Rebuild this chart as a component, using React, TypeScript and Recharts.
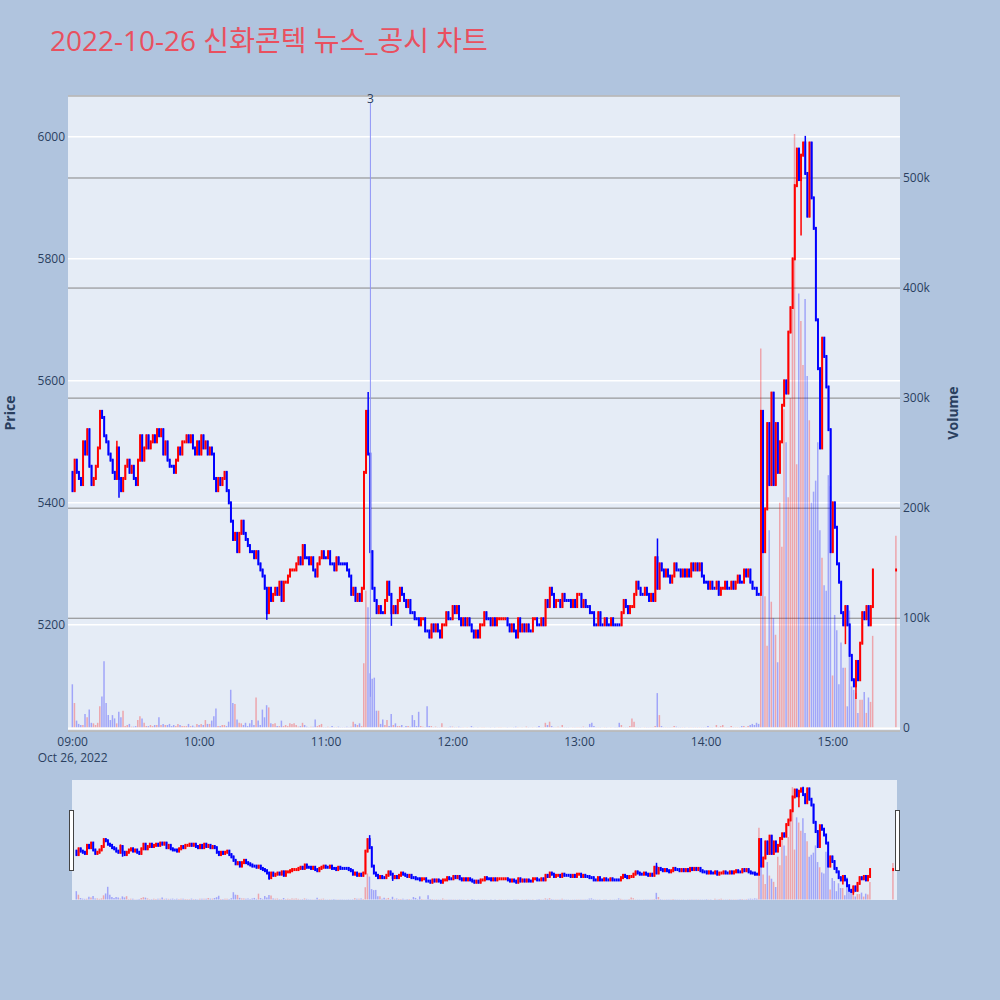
import React from "react";
import { ComposedChart, Bar, XAxis, YAxis, CartesianGrid, ReferenceLine, Cell } from "recharts";

const FONT = "'Open Sans', 'Noto Sans CJK KR', sans-serif";
const TEXT = "#2a3f5f";
const UP = "#ff0000";
const DOWN = "#0000ff";

const title = "2022-10-26 신화콘텍 뉴스_공시 차트";
const openingPrice = 5450;

// one close per minute, 09:00 onwards
const closes0900 = [
  5420, 5470, 5450, 5440, 5430, 5500, 5480, 5520, 5460, 5430,
  5440, 5460, 5490, 5550, 5540, 5510, 5500, 5480, 5470, 5450,
  5440, 5490, 5440, 5420, 5440, 5460, 5470, 5450, 5460, 5440,
  5430, 5470, 5510, 5470, 5490, 5510, 5490, 5500, 5510, 5500,
  5520, 5510, 5520, 5480, 5500, 5470, 5460, 5460, 5450, 5470,
  5490, 5480, 5500, 5500, 5510, 5500, 5510, 5490, 5480, 5500,
];
const closes1000 = [
  5480, 5510, 5490, 5500, 5480, 5490, 5480, 5440, 5420, 5440,
  5430, 5440, 5450, 5420, 5400, 5370, 5340, 5350, 5320, 5350,
  5370, 5350, 5340, 5330, 5320, 5320, 5310, 5320, 5300, 5290,
  5280, 5260, 5220, 5260, 5240, 5250, 5260, 5250, 5270, 5240,
  5270, 5270, 5280, 5290, 5290, 5290, 5300, 5310, 5300, 5330,
  5310, 5310, 5300, 5310, 5290, 5280, 5300, 5310, 5320, 5310,
];
const closes1100 = [
  5310, 5320, 5300, 5300, 5290, 5310, 5300, 5300, 5300, 5300,
  5290, 5280, 5250, 5260, 5240, 5250, 5240, 5260, 5450, 5550,
  5480, 5320, 5260, 5240, 5220, 5230, 5220, 5220, 5240, 5270,
  5250, 5220, 5230, 5220, 5240, 5260, 5250, 5240, 5230, 5240,
  5220, 5220, 5210, 5210, 5200, 5210, 5210, 5190, 5190, 5180,
  5200, 5190, 5200, 5190, 5180, 5200, 5200, 5220, 5210, 5210,
];
const closes1200 = [
  5230, 5220, 5230, 5210, 5200, 5210, 5200, 5210, 5200, 5190,
  5180, 5190, 5180, 5200, 5200, 5220, 5210, 5210, 5200, 5210,
  5200, 5210, 5210, 5210, 5210, 5210, 5200, 5190, 5200, 5190,
  5180, 5210, 5190, 5200, 5190, 5200, 5190, 5190, 5210, 5210,
  5200, 5200, 5210, 5200, 5240, 5230, 5260, 5250, 5230, 5240,
  5240, 5230, 5250, 5240, 5240, 5240, 5230, 5240, 5230, 5250,
];
const closes1300 = [
  5250, 5230, 5240, 5230, 5230, 5220, 5220, 5200, 5200, 5220,
  5200, 5200, 5210, 5200, 5200, 5210, 5200, 5200, 5200, 5200,
  5220, 5240, 5230, 5220, 5230, 5230, 5250, 5270, 5260, 5250,
  5250, 5260, 5250, 5240, 5250, 5240, 5310, 5260, 5300, 5290,
  5280, 5290, 5280, 5270, 5280, 5300, 5290, 5290, 5280, 5290,
  5280, 5290, 5280, 5300, 5290, 5300, 5290, 5300, 5280, 5270,
];
const closes1400 = [
  5270, 5260, 5270, 5260, 5260, 5270, 5250, 5260, 5260, 5270,
  5260, 5260, 5270, 5260, 5270, 5280, 5270, 5270, 5290, 5280,
  5290, 5270, 5260, 5260, 5250, 5250, 5550, 5320, 5390, 5530,
  5430, 5580, 5430, 5530, 5450, 5500, 5560, 5600, 5580, 5680,
  5720, 5800, 5920, 5980, 5930, 5970, 5990, 5940, 5870, 5990,
  5900, 5850, 5700, 5620, 5490, 5670, 5640, 5590, 5520, 5320,
];
const closes1500 = [
  5400, 5360, 5300, 5270, 5220, 5200, 5230, 5200, 5150, 5110,
  5100, 5140, 5110, 5170, 5220, 5210, 5230, 5200, 5230, 5290,
];

// volume per minute, thousand shares
const volumes0900 = [
  40, 23, 7, 4, 3, 3, 13, 10, 17, 5,
  4.5, 3, 5, 20, 29, 61, 23, 12, 7.5, 12,
  9, 4.5, 15, 10, 16, 2, 3, 4, 1.5, 1.5,
  2, 7.5, 11, 9, 5, 2, 2, 3, 2, 3,
  3, 10, 3, 4, 3, 3, 4, 2, 3, 2,
  4, 3, 2, 2, 2, 4, 2, 2.5, 1.5, 4,
];
const volumes1000 = [
  3, 4, 3, 7.5, 4, 4, 7, 11, 18, 2,
  2, 3, 3, 2, 6, 35, 23, 22, 8, 5,
  4.5, 3, 5, 2, 4.5, 7.5, 3, 28, 7, 3,
  17, 10, 21, 19, 4.5, 4, 4.5, 2, 2, 7,
  2, 3, 2, 4.5, 4, 4.5, 3, 1.5, 2, 5,
  3, 1.5, 1, 1.5, 1.5, 8, 2, 3, 4, 1,
];
const volumes1100 = [
  1, 1.5, 1, 2, 1, 1, 1.5, 1, 1, 1,
  1.5, 1, 1.5, 6, 4, 3, 4.5, 2, 59, 125,
  110, 50, 45, 46, 16, 16, 4, 8, 3, 7.5,
  2, 13, 3, 4.5, 2, 2, 3, 1, 2, 2,
  1.5, 12, 7.5, 2, 15, 2, 1.5, 1, 20, 2,
  2, 1, 1.5, 1, 1, 4.5, 1, 1, 1, 1.5,
];
const volumes1200 = [
  1.5, 1, 1, 1.5, 1, 1, 0.5, 1, 0.5, 2,
  1, 0.5, 1, 0.5, 1, 1, 0.5, 0.5, 1, 0.5,
  1, 0.5, 1, 1, 0.5, 0.5, 1, 0.5, 0.5, 1,
  1.5, 1, 0.5, 1, 0.5, 1.5, 1, 0.5, 1, 0.5,
  1, 2, 1, 1, 5, 3, 6, 2, 1, 1,
  1.5, 1, 3, 1, 1, 1, 0.5, 1, 1, 1,
];
const volumes1300 = [
  1, 1, 1.5, 1, 1, 4, 5, 2, 1, 1,
  1, 0.5, 1, 1, 0.5, 1, 0.5, 1, 1, 5,
  3, 1, 1, 1, 2, 9, 6, 1, 1, 1,
  0.5, 1, 1, 1, 1, 1, 2, 32, 12, 2,
  1, 1, 1, 1, 1, 2, 1.5, 1, 1, 1,
  1, 0.5, 1, 1, 1, 1, 1, 1, 1, 1,
];
const volumes1400 = [
  1, 2, 1, 1, 0.5, 3, 1, 2, 3, 1,
  1, 1, 2, 1, 1, 1, 1, 2, 2, 1,
  2, 3, 4, 3, 5, 4, 345, 190, 120, 75,
  180, 115, 100, 85, 60, 205, 165, 290, 260, 210,
  300, 380, 540, 240, 395, 370, 330, 390, 320, 280,
  205, 215, 225, 260, 180, 155, 130, 125, 230, 220,
];
const volumes1500 = [
  48, 103, 89, 40, 78, 55, 55, 20, 107, 38,
  35, 32, 14, 26, 26, 33, 14, 28, 24, 84,
];

// closing auction print at 15:30
const auctionMinute = 390;
const auctionPrice = 5290;
const auctionVolume = 175;

// wicks beyond the bodies: [minute, price]
const wickHighs: [number, number][] = [[21, 5500], [140, 5580], [277, 5340], [347, 6000], [359, 5520]];
const wickLows: [number, number][] = [[22, 5410], [92, 5210], [151, 5200], [345, 5840], [366, 5170], [371, 5080]];

const timeTicks = [0, 60, 120, 180, 240, 300, 360];
const timeLabels = ["09:00", "10:00", "11:00", "12:00", "13:00", "14:00", "15:00"];
const dateLabel = "Oct 26, 2022";
const priceTicks = [5200, 5400, 5600, 5800, 6000];
const volumeTicks = [0, 100, 200, 300, 400, 500];

const newsMinute = 141;
const newsLabel = "3";
const newsTop = 6056;
const newsBottom = 5082;

const xDomain = [-2.2, 391.8];
const priceDomain = [5026, 6067];
const volumeDomain = [-2.45, 574.5];

type Row = { m: number; o: number; c: number; h: number; l: number; v: number; hl: [number, number]; up: boolean };

const closes = [...closes0900, ...closes1000, ...closes1100, ...closes1200, ...closes1300, ...closes1400, ...closes1500];
const volumes = [...volumes0900, ...volumes1000, ...volumes1100, ...volumes1200, ...volumes1300, ...volumes1400, ...volumes1500];

const rows: Row[] = [];
let prevClose = openingPrice;
let prevUp = false;
const pushRow = (m: number, o: number, c: number, v: number) => {
  let h = Math.max(o, c);
  let l = Math.min(o, c);
  wickHighs.forEach(([wm, p]) => { if (wm === m) h = Math.max(h, p); });
  wickLows.forEach(([wm, p]) => { if (wm === m) l = Math.min(l, p); });
  const up = c > o ? true : c < o ? false : prevUp;
  rows.push({ m, o, c, h, l, v, hl: [l, h], up });
  prevUp = up;
  prevClose = c;
};
closes.forEach((c, m) => pushRow(m, prevClose, c, volumes[m]));
pushRow(auctionMinute, prevClose, auctionPrice, auctionVolume);

// body drawn like a filled box with a thick outline, as the original candles are
function CandleShape(props: any) {
  const { x, y, width, height, payload } = props;
  if (!payload || x == null || y == null) return null;
  const { o, c, h, l, up } = payload as Row;
  const top = Math.min(y, y + height);
  const span = Math.abs(height);
  const k = h > l ? span / (h - l) : 0;
  const py = (v: number) => top + (h - v) * k;
  const color = up ? UP : DOWN;
  const cx = x + width / 2;
  const bTop = py(Math.max(o, c)) - 1.5;
  const bBot = py(Math.min(o, c)) + 1.5;
  return (
    <g>
      {span > 0 && <line x1={cx} x2={cx} y1={top - 1} y2={top + span + 1} stroke={color} strokeWidth={1.5} />}
      <rect x={x} y={bTop} width={width} height={bBot - bTop} fill={color} />
    </g>
  );
}

function TimeTick(props: any) {
  const { x, payload } = props;
  const i = timeTicks.indexOf(payload.value);
  return (
    <g>
      <text x={x} y={746} textAnchor="middle" fontSize={12} fill={TEXT} fontFamily={FONT}>
        {timeLabels[i]}
      </text>
      {i === 0 && (
        <text x={x} y={762} textAnchor="middle" fontSize={12} fill={TEXT} fontFamily={FONT}>
          {dateLabel}
        </text>
      )}
    </g>
  );
}

function PriceTick(props: any) {
  const { y, payload } = props;
  return (
    <text x={65} y={y + 4} textAnchor="end" fontSize={12} fill={TEXT} fontFamily={FONT}>
      {payload.value}
    </text>
  );
}

function VolumeTick(props: any) {
  const { y, payload } = props;
  return (
    <text x={903} y={y + 4} textAnchor="start" fontSize={12} fill={TEXT} fontFamily={FONT}>
      {payload.value === 0 ? "0" : `${payload.value}k`}
    </text>
  );
}

function Series(candleWidth: number) {
  return [
    <Bar key="vol" xAxisId="vx" yAxisId="vol" dataKey="v" barSize={1.5} isAnimationActive={false}>
      {rows.map((r) => (
        <Cell key={r.m} fill={r.up ? UP : DOWN} fillOpacity={0.3} />
      ))}
    </Bar>,
    <Bar
      key="candle"
      xAxisId="time"
      yAxisId="price"
      dataKey="hl"
      barSize={candleWidth}
      isAnimationActive={false}
      shape={(p: any) => <CandleShape {...p} />}
    />,
  ];
}

export default function App() {
  return (
    <div style={{ position: "absolute", left: 0, top: 0, width: 1000, height: 1000, background: "#b0c4de", fontFamily: FONT }}>
      <svg width={1000} height={1000} style={{ position: "absolute", left: 0, top: 0 }}>
        <text x={50} y={51} fontSize={28} fill="#e9505f" fontFamily={FONT}>
          {title}
        </text>
        <text x={15} y={413} transform="rotate(-90 15 413)" textAnchor="middle" fontSize={14} fontWeight="bold" fill={TEXT} fontFamily={FONT}>
          Price
        </text>
        <text x={958} y={413} transform="rotate(-90 958 413)" textAnchor="middle" fontSize={14} fontWeight="bold" fill={TEXT} fontFamily={FONT}>
          Volume
        </text>
      </svg>

      <div style={{ position: "absolute", left: 0, top: 0 }}>
        <ComposedChart width={1000} height={770} data={rows} margin={{ top: 96, right: 40, bottom: 9, left: 10 }}>
          <CartesianGrid xAxisId="time" yAxisId="price" vertical={false} stroke="#ffffff" strokeWidth={1.5} fill="#e5ecf6" fillOpacity={1} />
          <CartesianGrid xAxisId="time" yAxisId="vol" vertical={false} stroke="#858585" strokeWidth={1} />
          <ReferenceLine xAxisId="time" yAxisId="vol" y={0} stroke="#ffffff" strokeWidth={2} />
          <XAxis
            xAxisId="time"
            dataKey="m"
            type="number"
            domain={xDomain}
            allowDataOverflow
            ticks={timeTicks}
            interval={0}
            tick={<TimeTick />}
            tickLine={false}
            axisLine={false}
            height={30}
          />
          <XAxis xAxisId="vx" dataKey="m" type="number" domain={xDomain} allowDataOverflow hide />
          <YAxis
            yAxisId="price"
            orientation="left"
            type="number"
            domain={priceDomain}
            allowDataOverflow
            ticks={priceTicks}
            interval={0}
            width={58}
            tick={<PriceTick />}
            tickLine={false}
            axisLine={false}
          />
          <YAxis
            yAxisId="vol"
            orientation="right"
            type="number"
            domain={volumeDomain}
            allowDataOverflow
            ticks={volumeTicks}
            interval={0}
            width={60}
            tick={<VolumeTick />}
            tickLine={false}
            axisLine={false}
          />
          {Series(3)}
          <ReferenceLine
            xAxisId="time"
            yAxisId="price"
            segment={[
              { x: newsMinute, y: newsTop },
              { x: newsMinute, y: newsBottom },
            ]}
            stroke="#8d94f7"
            strokeWidth={1}
            label={{ value: newsLabel, position: "top", offset: 0, fontSize: 12, fill: TEXT, fontFamily: FONT }}
          />
        </ComposedChart>
      </div>

      <div style={{ position: "absolute", left: 72, top: 780, width: 825, height: 120, background: "#e5ecf6" }}>
        <ComposedChart width={825} height={120} data={rows} margin={{ top: 0, right: 0, bottom: 0, left: 0 }}>
          <XAxis xAxisId="time" dataKey="m" type="number" domain={xDomain} allowDataOverflow hide />
          <XAxis xAxisId="vx" dataKey="m" type="number" domain={xDomain} allowDataOverflow hide />
          <YAxis yAxisId="price" type="number" domain={priceDomain} allowDataOverflow hide />
          <YAxis yAxisId="vol" type="number" domain={volumeDomain} allowDataOverflow hide />
          {Series(3)}
        </ComposedChart>
      </div>
      <div style={{ position: "absolute", left: 69, top: 810, width: 5, height: 61, boxSizing: "border-box", background: "#fff", border: "1px solid #444" }} />
      <div style={{ position: "absolute", left: 895, top: 810, width: 5, height: 61, boxSizing: "border-box", background: "#fff", border: "1px solid #444" }} />
    </div>
  );
}
